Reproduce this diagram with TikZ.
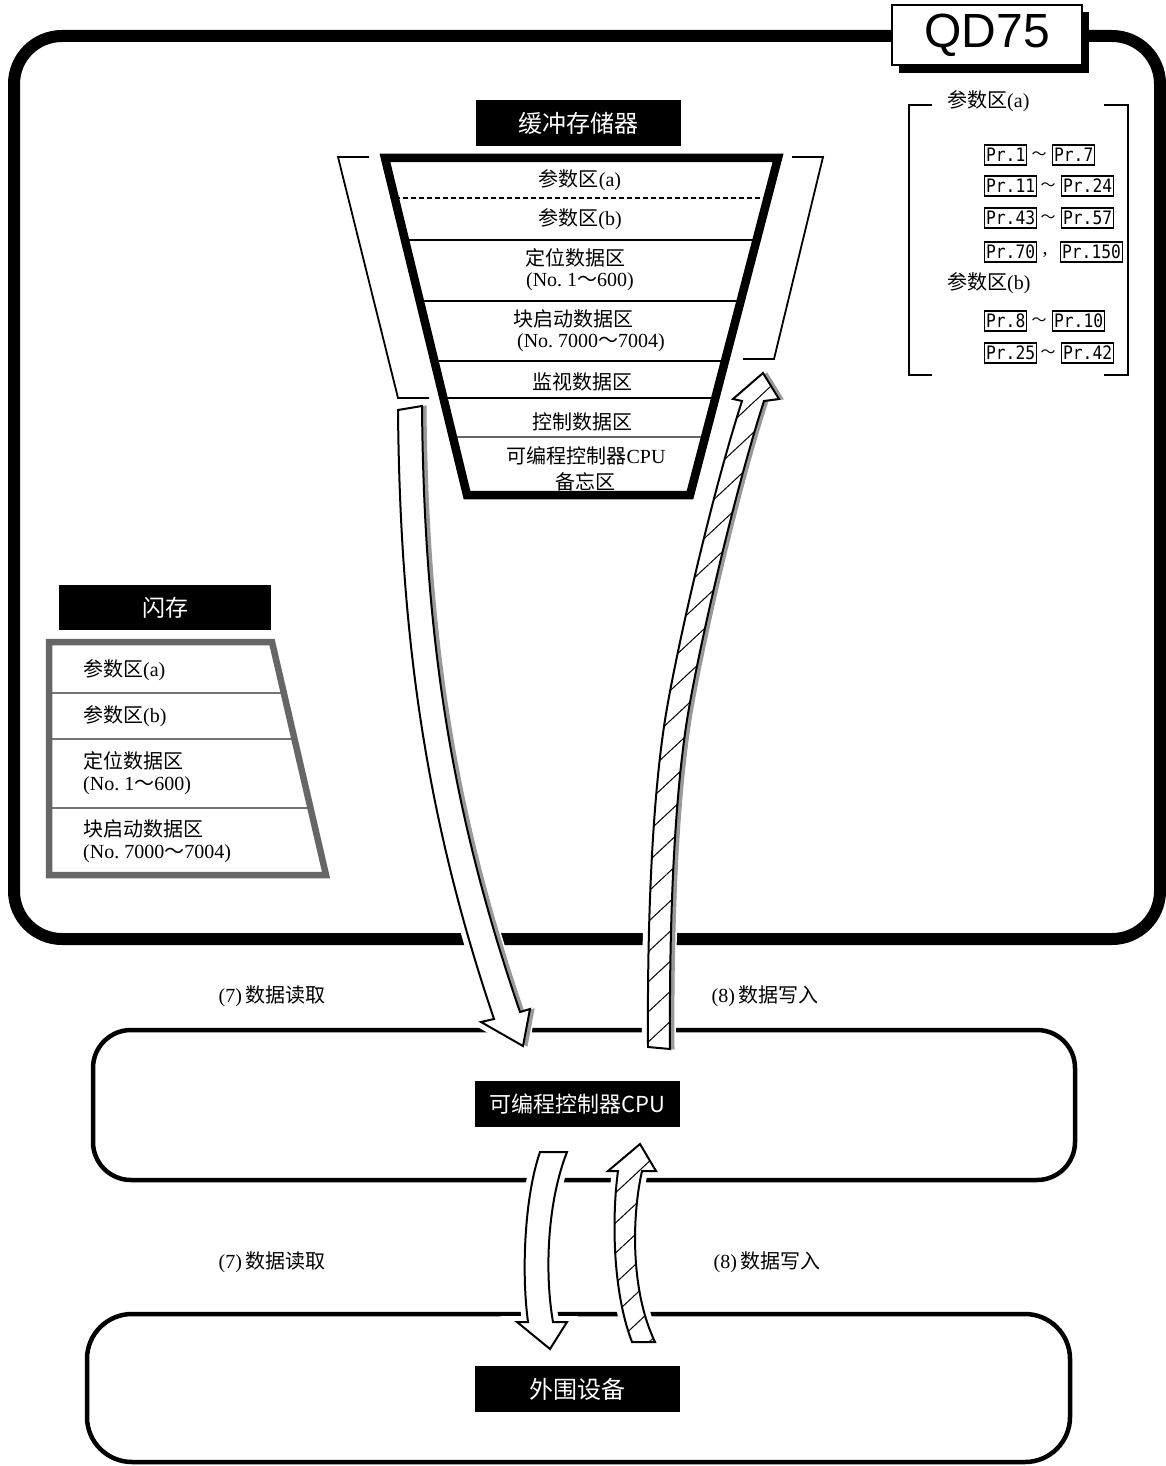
\documentclass[tikz,border=0pt]{standalone}
\usepackage{fontspec}
\setmainfont{Liberation Serif}
\newfontfamily\cjk{Noto Sans CJK SC}
\newfontfamily\prfont[FakeStretch=0.88]{DejaVu Sans Mono}
\newfontfamily\qdfont{Liberation Sans}
\usetikzlibrary{patterns.meta}
\newcommand\zh[1]{{\cjk #1}}
\newcommand\pathRA{(398,410) .. controls (400,650) and (430,830) .. (494,1019) -- (481,1022) -- (523,1046) -- (530,1009) -- (520,1012) .. controls (455,822) and (424,650) .. (422,406) -- cycle}
\newcommand\pathWA{(648,1047) .. controls (647,900) and (654,790) .. (665,720) .. controls (674.4,660) and (710,500) .. (742,401) -- (733,399) -- (763,373) -- (779,399) -- (764,401) .. controls (732,500) and (696.4,660) .. (687,720) .. controls (676,790) and (669,900) .. (670,1049) -- cycle}
\newcommand\pathRB{(540,1152) .. controls (525,1195) and (521,1270) .. (528,1322) -- (517,1322) -- (550,1349) -- (567,1322) -- (553,1322) .. controls (544,1270) and (548,1200) .. (567,1152) -- cycle}
\newcommand\pathWB{(632,1342) .. controls (612,1290) and (612,1215) .. (618,1171) -- (608,1171) -- (640,1144) -- (656,1171) -- (642,1171) .. controls (632,1215) and (630,1290) .. (655,1342) -- cycle}
\tikzset{
  body/.style={font=\fontsize{20}{22}\selectfont, inner sep=0pt},
  bodyw/.style={body, anchor=west},
  blab/.style={fill=black, text=white, font=\cjk\fontsize{23}{25}\selectfont, minimum width=205pt, minimum height=46pt, inner sep=0pt},
  prb/.style={draw, line width=1.2pt, font=\prfont\fontsize{18.5}{20}\selectfont, inner xsep=1.5pt, inner ysep=2pt, anchor=west, minimum height=20pt},
  tld/.style={font=\cjk\fontsize{15}{16}\selectfont, inner sep=0pt},
  sepline/.style={line width=1.6pt},
  fsep/.style={line width=1.6pt, black!55},
  halo/.style={draw=white, line width=12pt, fill=white},
  shadowy/.style={fill=black!40, draw=black!40, line width=1pt},
  bigw/.style={fill=white, draw=black, line width=2pt, line join=miter},
  bigh/.style={preaction={fill=white}, pattern={Lines[angle=43,distance=22pt,line width=1pt]}, pattern color=black, draw=black, line width=2pt, line join=miter},
  roundbox/.style={draw, line width=4.5pt, inner sep=0pt},
}
\begin{document}
\begin{tikzpicture}[x=1pt,y=-1pt]
\useasboundingbox (0,0) rectangle (1166,1466);
\fill[white] (0,0) rectangle (1166,1466);

% QD75 frame
\node[draw, line width=12pt, rounded corners=48pt, minimum width=1146pt, minimum height=903pt, inner sep=0pt] (frame) at (587,487.5) {};
\fill[black] (899,12) rectangle (1089,73);
\node[draw, line width=2.5pt, fill=white, minimum width=190pt, minimum height=60pt, font=\qdfont\fontsize{48}{50}\selectfont, inner sep=0pt] (qd) at (987,35) {QD75};

% buffer memory
\node[blab, font=\cjk\fontsize{24}{26}\selectfont] (buft) at (578.5,123) {缓冲存储器};
\draw[sepline, dash pattern=on 5pt off 3pt] (394.7,198) -- (767.6,198);
\draw[sepline] (405,240) -- (756.6,240);
\draw[sepline] (419.8,301) -- (740.7,301);
\draw[sepline] (434.4,361) -- (725,361);
\draw[sepline] (443.4,398) -- (715.3,398);
\draw[sepline, black!60] (452.9,437) -- (705.2,437);
\draw[line width=8.5pt, line join=miter] (385,158) -- (778,158) -- (690,495) -- (467,495) -- cycle;
\draw[line width=1.8pt] (369,157) -- (338,157) -- (398,398) -- (429,398);
\draw[line width=1.8pt] (792,157) -- (823,157) -- (774,359) -- (743,359);
\node[body] (b1) at (580,180) {\zh{参数区}(a)};
\node[body] (b2) at (580,219) {\zh{参数区}(b)};
\node[body] (b3) at (575,258) {\zh{定位数据区}};
\node[body] (b4) at (580,282) {(No.\ 1\zh{～}600)};
\node[body] (b5) at (573,319) {\zh{块启动数据区}};
\node[body] (b6) at (591,343) {(No.\ 7000\zh{～}7004)};
\node[body] (b7) at (582,382) {\zh{监视数据区}};
\node[body] (b8) at (582,422) {\zh{控制数据区}};
\node[body] (b9) at (586,456) {\zh{可编程控制器}CPU};
\node[body] (b10) at (585,482) {\zh{备忘区}};

% flash memory
\node[blab, minimum width=212pt, minimum height=45pt] (flt) at (165,607.5) {闪存};
\draw[fsep] (49,693) -- (283.8,693);
\draw[fsep] (49,739) -- (294.5,739);
\draw[fsep] (49,808) -- (310.5,808);
\draw[line width=6.5pt, black!60, line join=miter] (49,642) -- (272,642) -- (326,875) -- (49,875) -- cycle;
\node[bodyw] (f1) at (83,670) {\zh{参数区}(a)};
\node[bodyw] (f2) at (83,716) {\zh{参数区}(b)};
\node[bodyw] (f3) at (83,761) {\zh{定位数据区}};
\node[bodyw] (f4) at (83,786) {(No.\ 1\zh{～}600)};
\node[bodyw] (f5) at (83,829) {\zh{块启动数据区}};
\node[bodyw] (f6) at (83,854) {(No.\ 7000\zh{～}7004)};

% parameter list
\draw[line width=2.4pt] (932,105) -- (909,105) -- (909,375) -- (932,375);
\draw[line width=2.4pt] (1104,105) -- (1128,105) -- (1128,375) -- (1104,375);
\node[bodyw] (pa) at (947,101) {\zh{参数区}(a)};
\node[bodyw] (pb) at (947,283) {\zh{参数区}(b)};
\node[prb] (p1) at (984,155) {Pr.1};
\node[tld] (t1) at (1039,156) {～};
\node[prb] (p7) at (1052,155) {Pr.7};
\node[prb] (p11) at (984,186) {Pr.11};
\node[tld] (t2) at (1048,187) {～};
\node[prb] (p24) at (1061,186) {Pr.24};
\node[prb] (p43) at (984,218) {Pr.43};
\node[tld] (t3) at (1048,219) {～};
\node[prb] (p57) at (1061,218) {Pr.57};
\node[prb] (p70) at (984,252) {Pr.70};
\node[body] (c1) at (1045,255) {,};
\node[prb] (p150) at (1060,252) {Pr.150};
\node[prb] (p8) at (984,321) {Pr.8};
\node[tld] (t4) at (1039,322) {～};
\node[prb] (p10) at (1052,321) {Pr.10};
\node[prb] (p25) at (984,353) {Pr.25};
\node[tld] (t5) at (1048,354) {～};
\node[prb] (p42) at (1061,353) {Pr.42};

% CPU and peripheral
\node[roundbox, rounded corners=38pt, minimum width=982pt, minimum height=150pt] (cpubox) at (584,1105) {};
\node[blab, font=\cjk\fontsize{22}{24}\selectfont] (cpu) at (577.5,1104) {可编程控制器CPU};
\node[roundbox, rounded corners=45pt, minimum width=983pt, minimum height=148pt] (perbox) at (578.5,1388) {};
\node[blab, font=\cjk\fontsize{24}{26}\selectfont] (per) at (577.5,1389) {外围设备};

% labels
\node[body] (l7a) at (272,996) {(7)\,\zh{数据读取}};
\node[body] (l8a) at (765,996) {(8)\,\zh{数据写入}};
\node[body] (l7b) at (272,1262) {(7)\,\zh{数据读取}};
\node[body] (l8b) at (767,1262) {(8)\,\zh{数据写入}};

% big arrows
\path[halo] \pathRA;
\path[halo] \pathWA;
\path[halo] \pathRB;
\path[halo] \pathWB;
\path[shadowy, xshift=4pt] \pathRA;
\path[shadowy, xshift=4pt] \pathWA;
\path[bigw] \pathRA;
\path[bigh] \pathWA;
\path[bigw] \pathRB;
\path[bigh] \pathWB;
\end{tikzpicture}
\end{document}
